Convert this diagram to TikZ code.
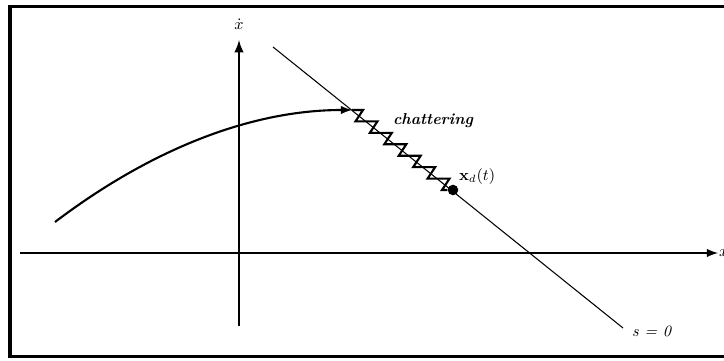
\documentclass[tikz,border=0pt]{standalone}
\usepackage{amsmath,amssymb}
\usepackage{tikz}
\usetikzlibrary{arrows,calc}

\begin{document}
\begin{tikzpicture}[x=0.02cm, y=-0.02cm,
    axis/.style={line width=1.2pt, -latex},
    traj/.style={line width=1.2pt},
    surf/.style={line width=0.6pt},
    lbl/.style={inner sep=1pt, font=\small}]
% Picture size and frame
\clip (0,0) rectangle (724,361);
\draw[line width=2pt] (10,6.5) rectangle (740,356.5);

% Phase plane axes
\coordinate (xl) at (20,253);
\coordinate (xr) at (718,253);
\coordinate (vb) at (239,326);
\coordinate (vt) at (239,40);
\draw[axis] (xl) -- (xr);
\draw[axis, line width=1.4pt] (vb) -- (vt);
\node[lbl, anchor=west] (xlab) at (717,253) {$x$};
\node[lbl] (vlab) at (239,24) {$\dot{x}$};

% Sliding surface s = 0
\coordinate (stop) at (273,47);
\coordinate (sbot) at (623,328);
\draw[surf] (stop) -- (sbot);
\node[lbl, anchor=west] (s0) at (630,331) {\textit{s = 0}};

% Trajectory reaching the surface
\coordinate (start) at (55,222);
\coordinate (hit) at (352,110);
\draw[traj, -latex] (start) .. controls (150,150) and (250,110) .. (hit);

% Chattering along the surface
\node[circle, fill=black, inner sep=0pt, minimum size=6pt] (xd) at (453,190) {};
\draw[traj, line width=1.2pt, line join=miter] (hit) -- ++(11,0)
    \foreach \k in {1,...,6} { -- ($(hit)+(\k*14.43-11,\k*11.43)$) -- ++(22,0) }
    -- ($(xd)+(-11,0)$) -- (xd);
\node[lbl, font=\small\itshape\bfseries] (chat) at (433,121) {chattering};
\node[lbl, anchor=west] (xdlab) at (457,177) {$\mathbf{x}_d(t)$};

\end{tikzpicture}
\end{document}
